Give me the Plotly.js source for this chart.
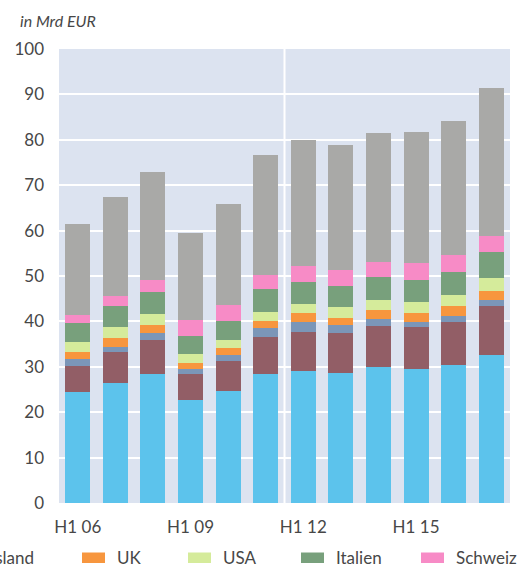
<!DOCTYPE html>
<html>
<head>
<meta charset="utf-8">
<script src="https://cdn.plot.ly/plotly-3.0.1.min.js"></script>
<style>html,body{margin:0;padding:0;background:#fff;}#chart{width:519px;height:588px;}</style>
</head>
<body>
<div id="chart"></div>
<script>
// Data (Mrd EUR)
const categories = ["H1 06","H1 07","H1 08","H1 09","H1 10","H1 11","H1 12","H1 13","H1 14","H1 15","H1 16","H1 17"];
const tickLabels = ["H1 06","H1 09","H1 12","H1 15"];
const deutschland = [24.5, 26.5, 28.5, 22.7, 24.7, 28.5, 29.1, 28.7, 30.0, 29.6, 30.4, 32.5];
const cesee       = [ 5.7,  6.8,  7.5,  5.8,  6.6,  8.1,  8.6,  8.8,  9.0,  9.2,  9.5, 10.8];
const russland    = [ 1.6,  1.1,  1.5,  1.1,  1.3,  2.0,  2.2,  1.7,  1.6,  1.1,  1.3,  1.5];
const uk          = [ 1.5,  2.0,  1.7,  1.3,  1.6,  1.5,  2.0,  1.6,  2.0,  2.0,  2.2,  2.0];
const usa         = [ 2.2,  2.4,  2.5,  2.0,  1.7,  2.0,  2.0,  2.4,  2.2,  2.4,  2.4,  2.8];
const italien     = [ 4.2,  4.6,  4.8,  3.9,  4.2,  5.1,  4.8,  4.6,  5.0,  4.9,  5.1,  5.7];
const schweiz     = [ 1.8,  2.2,  2.7,  3.6,  3.5,  3.1,  3.5,  3.6,  3.3,  3.7,  3.7,  3.5];
const sonstige    = [20.0, 21.9, 23.7, 19.1, 22.3, 26.4, 27.8, 27.5, 28.4, 28.8, 29.5, 32.6];

const seriesNames  = ["Deutschland","CESEE","Russland","UK","USA","Italien","Schweiz","Sonstige"];
const seriesValues = [deutschland, cesee, russland, uk, usa, italien, schweiz, sonstige];
const colors = ["#5CC3EC","#925E66","#7B96B8","#F7963E","#D5EB9B","#78A07C","#F78BC6","#A9A9A7"];

const FONT = "Lato, 'Open Sans', sans-serif";
const TXT = "#474747";

const traces = seriesNames.map((n, i) => ({
  type: "bar",
  name: n,
  x: categories,
  y: seriesValues[i],
  marker: {color: colors[i], line: {width: 0}},
  showlegend: false,
  hoverinfo: "x+y+name"
}));

// geometry helpers (pixel -> paper)
const W = 519, H = 588, ML = 59, MR = 9, MT = 49, MB = 85;
const PW = W - ML - MR, PH = H - MT - MB;
const px = x => (x - ML) / PW;
const py = y => (H - MB - y) / PH;

// manual legend (wide swatches like the reference)
const legendItems = [
  {name: "Russland", color: colors[2], sx: -60},
  {name: "UK", color: colors[3], sx: 82},
  {name: "USA", color: colors[4], sx: 188},
  {name: "Italien", color: colors[5], sx: 301},
  {name: "Schweiz", color: colors[6], sx: 421}
];
const shapes = [
  {type: "line", xref: "x", yref: "paper", x0: 5.5, x1: 5.5, y0: 0, y1: 1,
   line: {color: "#ffffff", width: 2}, layer: "below"}
];
const annotations = [
  {xref: "paper", yref: "paper", x: px(18), y: py(20), xanchor: "left", yanchor: "middle",
   text: "<i>in Mrd EUR</i>", showarrow: false, font: {family: FONT, size: 16, color: TXT}}
];
legendItems.forEach(it => {
  shapes.push({type: "rect", xref: "paper", yref: "paper",
    x0: px(it.sx), x1: px(it.sx + 23), y0: py(563), y1: py(552.5),
    fillcolor: it.color, line: {width: 0}});
  const tx = it.name === "Russland" ? 36 : it.sx + 33;
  annotations.push({xref: "paper", yref: "paper",
    x: px(tx), y: py(557.5), xanchor: it.name === "Russland" ? "right" : "left", yanchor: "middle",
    text: it.name, showarrow: false, font: {family: FONT, size: 17, color: TXT}});
});

const layout = {
  width: W, height: H,
  margin: {l: ML, r: MR, t: MT, b: MB, pad: 0},
  paper_bgcolor: "#ffffff",
  plot_bgcolor: "#DCE3F0",
  barmode: "stack",
  bargap: 0.335,
  showlegend: false,
  font: {family: FONT, color: TXT},
  xaxis: {
    type: "category",
    range: [-0.5, 11.5],
    tickmode: "array",
    tickvals: tickLabels,
    ticktext: tickLabels,
    showgrid: false,
    zeroline: false,
    showline: false,
    ticks: "",
    ticklabelstandoff: 12,
    tickfont: {family: FONT, size: 17, color: TXT}
  },
  yaxis: {
    range: [0, 100],
    dtick: 10,
    tick0: 0,
    showgrid: true,
    gridcolor: "#ffffff",
    gridwidth: 2,
    zeroline: false,
    showline: false,
    ticks: "",
    ticklabelstandoff: 14,
    tickfont: {family: FONT, size: 17, color: TXT}
  },
  shapes: shapes,
  annotations: annotations
};

Plotly.newPlot("chart", traces, layout, {displayModeBar: false, staticPlot: true});
</script>
</body>
</html>
